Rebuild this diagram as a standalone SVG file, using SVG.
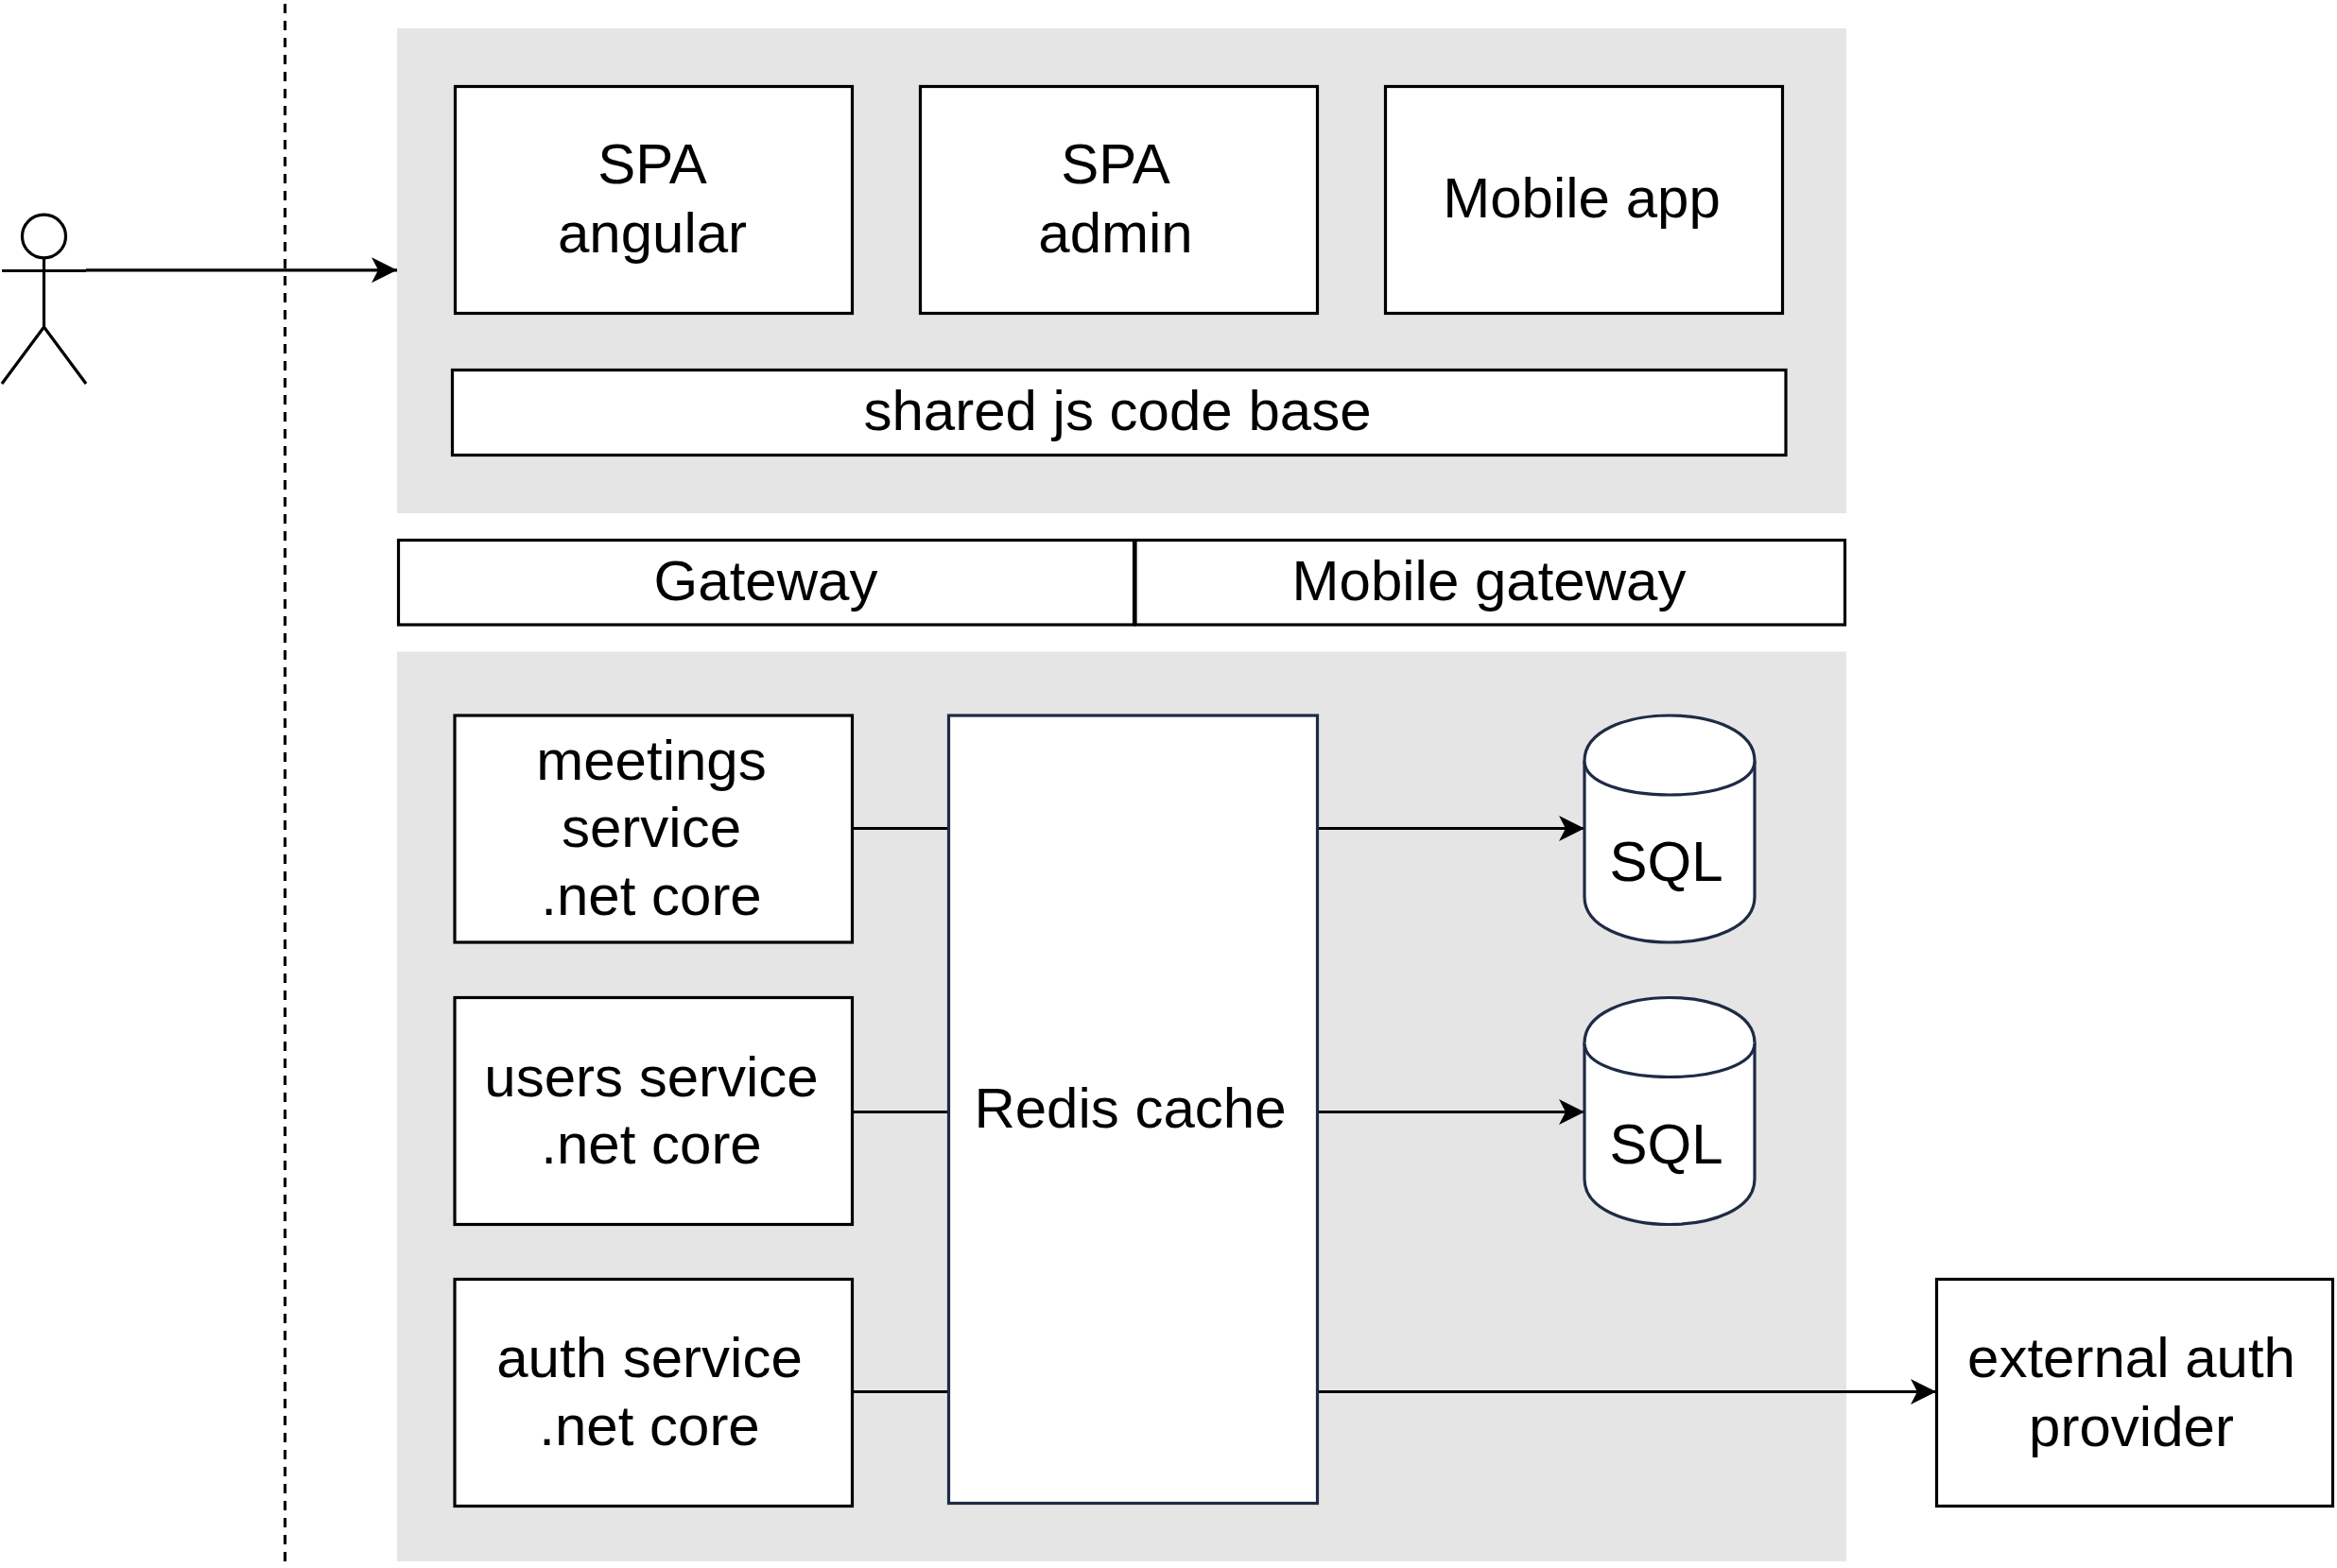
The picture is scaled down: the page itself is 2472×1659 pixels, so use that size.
<svg xmlns="http://www.w3.org/2000/svg" width="2472" height="1659" viewBox="0 0 2472 1659">
<style>
.panel{fill:#e5e5e5;stroke:none}
.box{fill:#fff;stroke:#000;stroke-width:3.2}
.navy{fill:#fff;stroke:#1e2b45;stroke-width:3.2}
.line{fill:none;stroke:#000;stroke-width:3.2}
.dash{stroke-dasharray:10 8}
text{font-family:"Liberation Sans",Arial,sans-serif;font-size:60px;fill:#000;text-anchor:middle}
</style>
<defs>
<marker id="arrow" markerUnits="userSpaceOnUse" markerWidth="30" markerHeight="30" viewBox="-28 -15 30 30" refX="0" refY="0" orient="auto"><path d="M0 0L-27 -13.5L-20 0L-27 13.5Z" fill="#000"/></marker>
</defs>
<rect width="2472" height="1659" fill="#fff"/>
<g id="boundary"><path class="line dash" d="M301.500 4V1652"/></g>
<g id="frontend-panel"><rect class="panel" x="420" y="30" width="1533" height="513"/></g>
<g id="backend-panel"><rect class="panel" x="420" y="689.500" width="1533" height="962.500"/></g>
<g id="connectors">
<path class="line" marker-end="url(#arrow)" d="M91 285.800H420"/>
<path class="line" d="M902 876.500H1003"/>
<path class="line" d="M902 1176.500H1003"/>
<path class="line" d="M902 1472.500H1003"/>
<path class="line" marker-end="url(#arrow)" d="M1394 876.500H1676"/>
<path class="line" marker-end="url(#arrow)" d="M1394 1176.500H1676"/>
<path class="line" marker-end="url(#arrow)" d="M1394 1472.500H2048"/>
</g>
<g id="actor" class="line"><ellipse cx="46.500" cy="250" rx="23" ry="22.800"/><path d="M46.500 273V346M2 286.500H91M46.500 346L2 406M46.500 346L91 406"/></g>
<g id="spa-angular"><rect class="box" x="481.500" y="91.500" width="420" height="240"/><text x="690" y="194">SPA</text><text x="690" y="266.500">angular</text></g>
<g id="spa-admin"><rect class="box" x="973.500" y="91.500" width="420" height="240"/><text x="1180" y="194">SPA</text><text x="1180" y="266.500">admin</text></g>
<g id="mobile-app"><rect class="box" x="1465.500" y="91.500" width="420" height="240"/><text x="1673" y="230">Mobile app</text></g>
<g id="shared"><rect class="box" x="478.500" y="391.500" width="1410.500" height="90"/><text x="1182" y="455">shared js code base</text></g>
<g id="gateway"><rect class="box" x="421.500" y="571.500" width="778" height="89.500"/><text x="810" y="634.500">Gateway</text></g>
<g id="mobile-gateway"><rect class="box" x="1201" y="571.500" width="750.500" height="89.500"/><text x="1575" y="634.500">Mobile gateway</text></g>
<g id="meetings"><rect class="box" x="481" y="757" width="420.500" height="240"/><text x="689" y="825">meetings</text><text x="689" y="896">service</text><text x="689" y="968">.net core</text></g>
<g id="users"><rect class="box" x="481" y="1055.500" width="420.500" height="240"/><text x="689" y="1159.500">users service</text><text x="689" y="1231">.net core</text></g>
<g id="auth"><rect class="box" x="481" y="1353.500" width="420.500" height="240"/><text x="687" y="1457">auth service</text><text x="687" y="1529">.net core</text></g>
<g id="redis"><rect class="navy" x="1003.500" y="757" width="390" height="833.500"/><text x="1195.500" y="1193">Redis cache</text></g>
<g id="sql-1"><path class="navy" d="M1676 805C1676 741 1856 741 1856 805V949C1856 1013 1676 1013 1676 949Z"/><path class="navy" d="M1676 805C1676 853 1856 853 1856 805"/><text x="1762.500" y="931.500">SQL</text></g>
<g id="sql-2"><path class="navy" d="M1676 1103.500C1676 1039.500 1856 1039.500 1856 1103.500V1247.500C1856 1311.500 1676 1311.500 1676 1247.500Z"/><path class="navy" d="M1676 1103.500C1676 1151.500 1856 1151.500 1856 1103.500"/><text x="1762.500" y="1231">SQL</text></g>
<g id="external-auth"><rect class="box" x="2048.500" y="1353.500" width="419" height="240"/><text x="2254.500" y="1457">external auth</text><text x="2254.500" y="1530">provider</text></g>
</svg>
